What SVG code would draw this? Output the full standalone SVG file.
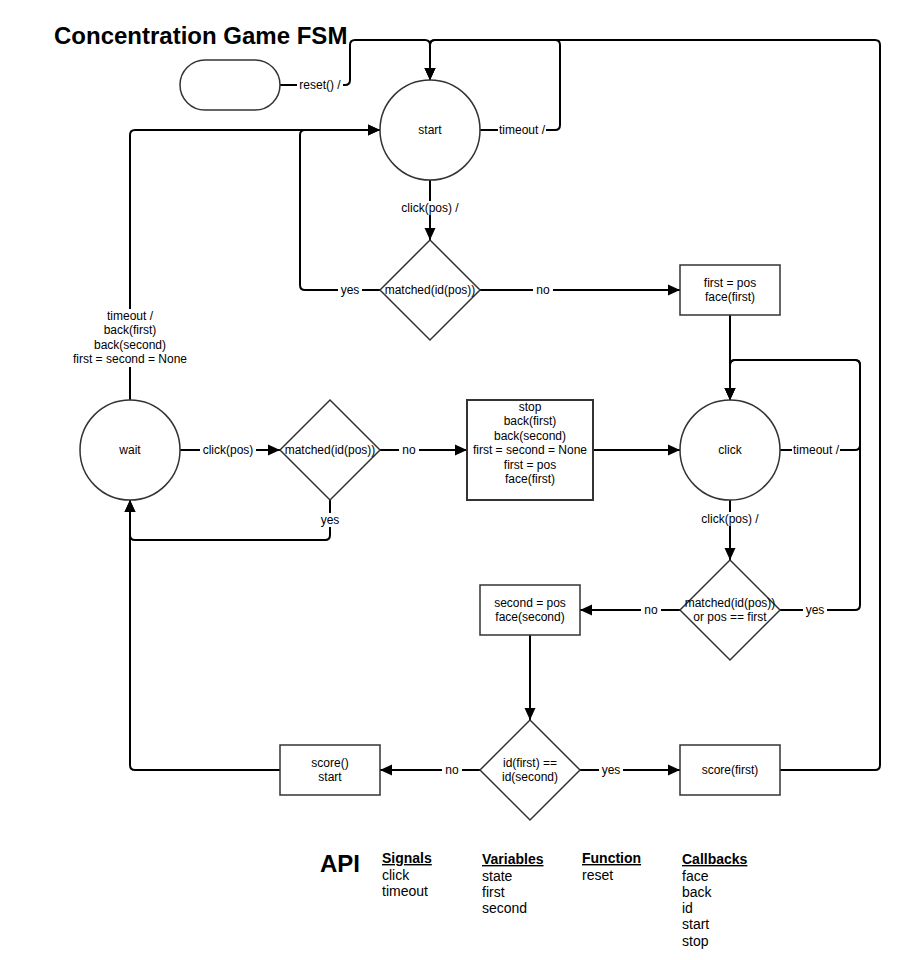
<svg xmlns="http://www.w3.org/2000/svg" width="915" height="960" viewBox="0 0 915 960">
<defs>
<marker id="arr" markerUnits="userSpaceOnUse" markerWidth="12" markerHeight="12" viewBox="0 0 12 12" refX="12" refY="6" orient="auto">
<path d="M0,0.5 L12,6 L0,11.5 z" fill="#000"/>
</marker>
<style>
text{font-family:"Liberation Sans",Arial,sans-serif;font-size:12px;fill:#000;text-anchor:middle}
.shape{fill:#fff;stroke:#333;stroke-width:1.5}
.edge{fill:none;stroke:#000;stroke-width:2}
.arrow{marker-end:url(#arr)}
.lbg{fill:#fff;stroke:none}
.title{font-size:24px;font-weight:bold;text-anchor:start}
.head{font-size:14px;font-weight:bold;text-anchor:start;text-decoration:underline}
.item{font-size:14px;text-anchor:start}
</style>
</defs>
<rect width="915" height="960" fill="#fff"/>
<text class="title" x="54" y="44">Concentration Game FSM</text>

<g id="connectors">
<path class="edge arrow" d="M280,85 H345 Q350,85 350,80 V45 Q350,40 355,40 H425 Q430,40 430,45 V80"/>
<path class="edge arrow" d="M480,130 H555 Q560,130 560,125 V45 Q560,40 555,40 H435 Q430,40 430,45 V80"/>
<path class="edge arrow" d="M780,770 H875 Q880,770 880,765 V45 Q880,40 875,40 H435 Q430,40 430,45 V80"/>
<path class="edge arrow" d="M430,180 V240"/>
<path class="edge arrow" d="M380,290 H305 Q300,290 300,285 V135 Q300,130 305,130 H380"/>
<path class="edge arrow" d="M480,290 H680"/>
<path class="edge arrow" d="M730,315 V400"/>
<path class="edge arrow" d="M780,450 H855 Q860,450 860,445 V365 Q860,360 855,360 H735 Q730,360 730,365 V400"/>
<path class="edge arrow" d="M730,500 V560"/>
<path class="edge arrow" d="M780,610 H855 Q860,610 860,605 V365 Q860,360 855,360 H735 Q730,360 730,365 V400"/>
<path class="edge arrow" d="M680,610 H580"/>
<path class="edge arrow" d="M530,635 V720"/>
<path class="edge arrow" d="M480,770 H380"/>
<path class="edge arrow" d="M580,770 H680"/>
<path class="edge arrow" d="M280,770 H135 Q130,770 130,765 V500"/>
<path class="edge arrow" d="M180,450 H280"/>
<path class="edge arrow" d="M380,450 H467"/>
<path class="edge arrow" d="M330,500 V535 Q330,540 325,540 H135 Q130,540 130,535 V500"/>
<path class="edge arrow" d="M593,450 H680"/>
<path class="edge arrow" d="M130,400 V135 Q130,130 135,130 H380"/>

<rect class="lbg" x="297" y="78" width="46" height="14"/>
<text x="320" y="89">reset() /</text>
<rect class="lbg" x="498" y="123" width="48" height="14"/>
<text x="522" y="134">timeout /</text>
<rect class="lbg" x="400" y="201" width="60" height="14"/>
<text x="430" y="212">click(pos) /</text>
<rect class="lbg" x="338" y="283" width="24" height="14"/>
<text x="350" y="294">yes</text>
<rect class="lbg" x="533" y="283" width="20" height="14"/>
<text x="543" y="294">no</text>
<rect class="lbg" x="72" y="309" width="116" height="58"/>
<text x="130" y="320">timeout /</text>
<text x="130" y="334">back(first)</text>
<text x="130" y="349">back(second)</text>
<text x="130" y="363">first = second = None</text>
<rect class="lbg" x="200" y="443" width="56" height="14"/>
<text x="228" y="454">click(pos)</text>
<rect class="lbg" x="399" y="443" width="20" height="14"/>
<text x="409" y="454">no</text>
<rect class="lbg" x="318" y="513" width="24" height="14"/>
<text x="330" y="524">yes</text>
<rect class="lbg" x="792" y="443" width="48" height="14"/>
<text x="816" y="454">timeout /</text>
<rect class="lbg" x="700" y="512" width="60" height="14"/>
<text x="730" y="523">click(pos) /</text>
<rect class="lbg" x="641" y="603" width="20" height="14"/>
<text x="651" y="614">no</text>
<rect class="lbg" x="803" y="603" width="24" height="14"/>
<text x="815" y="614">yes</text>
<rect class="lbg" x="442" y="763" width="20" height="14"/>
<text x="452" y="774">no</text>
<rect class="lbg" x="599" y="763" width="24" height="14"/>
<text x="611" y="774">yes</text>
</g>

<g id="init">
<rect class="shape" x="180" y="60" width="100" height="50" rx="25" ry="25"/>
</g>
<g id="start">
<circle class="shape" cx="430" cy="130" r="50"/>
<text x="430" y="134">start</text>
</g>
<g id="check1">
<polygon class="shape" points="430,240 480,290 430,340 380,290"/>
<text x="430" y="294">matched(id(pos))</text>
</g>
<g id="setFirst">
<rect class="shape" x="680" y="265" width="100" height="50"/>
<text x="730" y="287">first = pos</text>
<text x="730" y="301">face(first)</text>
</g>
<g id="wait">
<circle class="shape" cx="130" cy="450" r="50"/>
<text x="130" y="454">wait</text>
</g>
<g id="check2">
<polygon class="shape" points="330,400 380,450 330,500 280,450"/>
<text x="330" y="454">matched(id(pos))</text>
</g>
<g id="stopBox">
<rect class="shape" x="467" y="400" width="126" height="100" style="stroke-width:2"/>
<text x="530" y="411">stop</text>
<text x="530" y="425">back(first)</text>
<text x="530" y="440">back(second)</text>
<text x="530" y="454">first = second = None</text>
<text x="530" y="469">first = pos</text>
<text x="530" y="483">face(first)</text>
</g>
<g id="click">
<circle class="shape" cx="730" cy="450" r="50"/>
<text x="730" y="454">click</text>
</g>
<g id="check3">
<polygon class="shape" points="730,560 780,610 730,660 680,610"/>
<text x="730" y="607">matched(id(pos))</text>
<text x="730" y="621">or pos == first</text>
</g>
<g id="setSecond">
<rect class="shape" x="480" y="585" width="100" height="50"/>
<text x="530" y="607">second = pos</text>
<text x="530" y="621">face(second)</text>
</g>
<g id="check4">
<polygon class="shape" points="530,720 580,770 530,820 480,770"/>
<text x="530" y="767">id(first) ==</text>
<text x="530" y="781">id(second)</text>
</g>
<g id="scoreStart">
<rect class="shape" x="280" y="745" width="100" height="50"/>
<text x="330" y="767">score()</text>
<text x="330" y="781">start</text>
</g>
<g id="scoreFirst">
<rect class="shape" x="680" y="745" width="100" height="50"/>
<text x="730" y="774">score(first)</text>
</g>

<g id="api">
<text class="title" x="320" y="872">API</text>
<text class="head" x="382" y="863">Signals</text>
<text class="item" x="382" y="880">click</text>
<text class="item" x="382" y="896">timeout</text>
<text class="head" x="482" y="864">Variables</text>
<text class="item" x="482" y="881">state</text>
<text class="item" x="482" y="897">first</text>
<text class="item" x="482" y="913">second</text>
<text class="head" x="582" y="863">Function</text>
<text class="item" x="582" y="880">reset</text>
<text class="head" x="682" y="864">Callbacks</text>
<text class="item" x="682" y="881">face</text>
<text class="item" x="682" y="897">back</text>
<text class="item" x="682" y="913">id</text>
<text class="item" x="682" y="929">start</text>
<text class="item" x="682" y="946">stop</text>
</g>
</svg>
